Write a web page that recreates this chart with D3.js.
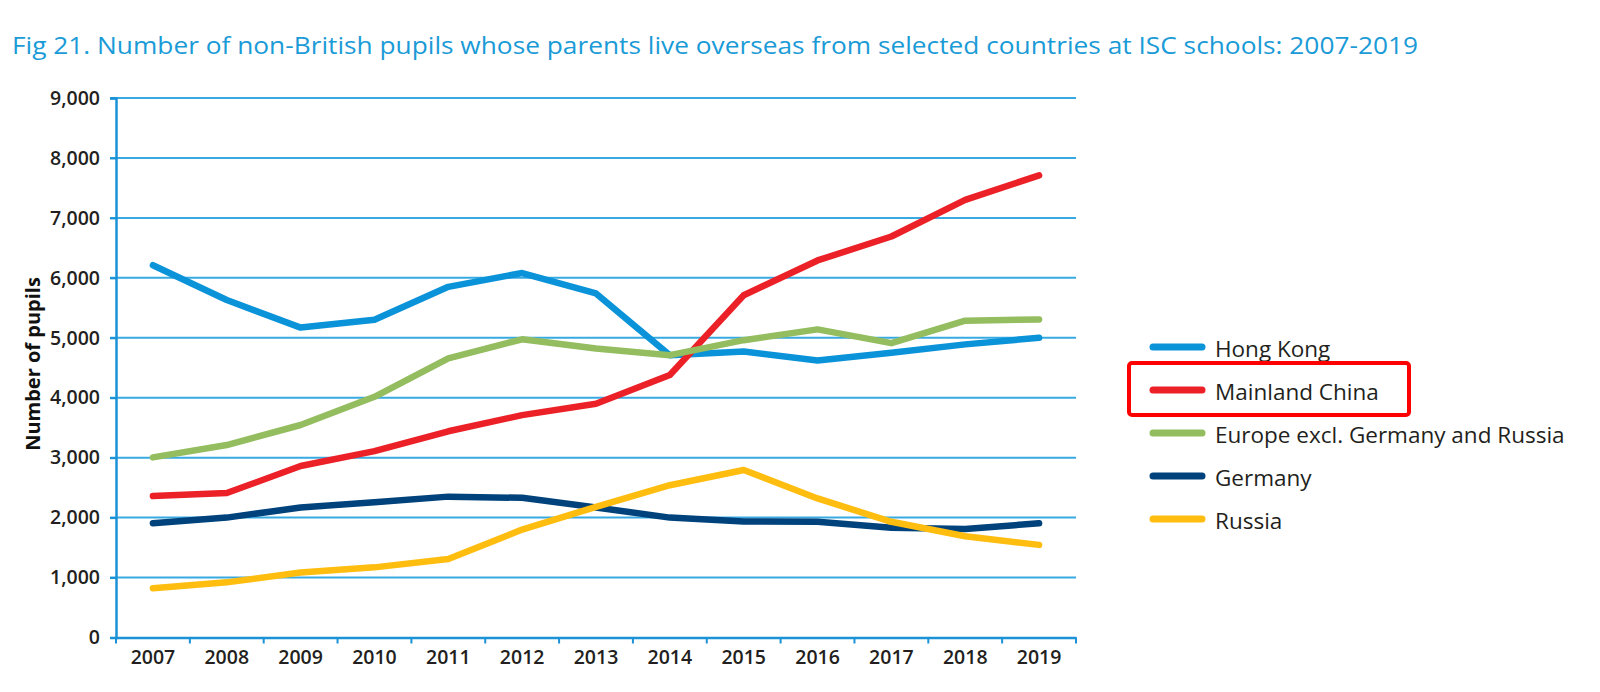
<!DOCTYPE html>
<html>
<head>
<meta charset="utf-8">
<script src="https://cdn.jsdelivr.net/npm/d3@7"></script>
<style>
  html, body { margin: 0; padding: 0; background: #ffffff; }
  svg { display: block; }
</style>
</head>
<body>
<svg id="chart" width="1600" height="692"></svg>
<script>
const years = [2007, 2008, 2009, 2010, 2011, 2012, 2013, 2014, 2015, 2016, 2017, 2018, 2019];
const hongKong      = [6210, 5630, 5170, 5300, 5850, 6080, 5740, 4710, 4770, 4620, 4750, 4890, 5000];
const mainlandChina = [2360, 2410, 2860, 3110, 3440, 3710, 3900, 4380, 5710, 6290, 6690, 7300, 7710];
const europeExcl    = [3005, 3210, 3545, 4015, 4655, 4975, 4820, 4710, 4960, 5140, 4910, 5285, 5305];
const germany       = [1905, 2000, 2170, 2255, 2350, 2330, 2170, 2000, 1935, 1930, 1830, 1810, 1905];
const russia        = [820, 920, 1085, 1170, 1310, 1800, 2180, 2540, 2795, 2320, 1930, 1690, 1545];
const seriesNames = ["Hong Kong", "Mainland China", "Europe excl. Germany and Russia", "Germany", "Russia"];
const seriesColors = ["#0a93d9", "#ec2128", "#93bd5f", "#00427b", "#ffbd10"];
const yTicks = [0, 1000, 2000, 3000, 4000, 5000, 6000, 7000, 8000, 9000];
const titleText = "Fig 21. Number of non-British pupils whose parents live overseas from selected countries at ISC schools: 2007-2019";
const yAxisTitle = "Number of pupils";
const highlighted = "Mainland China";

const seriesValues = [hongKong, mainlandChina, europeExcl, germany, russia];
const series = seriesNames.map((name, i) => ({
  name, color: seriesColors[i],
  values: years.map((yr, j) => ({ year: yr, value: seriesValues[i][j] }))
}));

const svg = d3.select("#chart");
const plotLeft = 116, plotRight = 1076, plotTop = 98, plotBottom = 637.5;
const axisColor = "#1b92d6", gridColor = "#38aae2", textColor = "#231f20";
const fontFam = "'Open Sans', 'Noto Sans', sans-serif";

const xBand = d3.scaleBand().domain(years).range([plotLeft, plotRight]).padding(0);
const x = d3.scalePoint().domain(years).range([plotLeft, plotRight]).padding(0.5);
const y = d3.scaleLinear().domain([0, 9000]).range([plotBottom, plotTop]);

// Title
svg.append("text")
  .attr("x", 12).attr("y", 54)
  .attr("font-family", fontFam)
  .attr("font-size", 24.5)
  .attr("fill", "#1a9bd7")
  .attr("textLength", 1406).attr("lengthAdjust", "spacingAndGlyphs")
  .text(titleText);

// Gridlines
svg.append("g").selectAll("line")
  .data(yTicks.filter(d => d > 0))
  .join("line")
  .attr("x1", plotLeft - 6).attr("x2", plotRight)
  .attr("y1", d => y(d)).attr("y2", d => y(d))
  .attr("stroke", gridColor).attr("stroke-width", 2);

// Y axis
const yAxis = svg.append("g")
  .attr("transform", `translate(${plotLeft},0)`)
  .call(d3.axisLeft(y).tickValues(yTicks).tickFormat(d3.format(",")).tickSize(6).tickPadding(10));
yAxis.select(".domain").attr("stroke", axisColor).attr("stroke-width", 2.5);
yAxis.selectAll(".tick line").attr("stroke", axisColor).attr("stroke-width", 2);
yAxis.selectAll(".tick text")
  .attr("font-family", fontFam).attr("font-size", 19.5).attr("font-weight", 600)
  .attr("fill", textColor);

// X axis
const xAxis = svg.append("g")
  .attr("transform", `translate(0,${plotBottom})`)
  .call(d3.axisBottom(xBand).tickSize(0).tickPadding(13).tickSizeOuter(0));
xAxis.select(".domain").attr("stroke", axisColor).attr("stroke-width", 2.5);
xAxis.selectAll(".tick text")
  .attr("font-family", fontFam).attr("font-size", 19.5).attr("font-weight", 600)
  .attr("fill", textColor);
// boundary ticks
const boundaries = years.map(d => xBand(d)).concat([xBand(years[years.length - 1]) + xBand.bandwidth()]);
svg.append("g").selectAll("line")
  .data(boundaries)
  .join("line")
  .attr("x1", d => d).attr("x2", d => d)
  .attr("y1", plotBottom).attr("y2", plotBottom + 6)
  .attr("stroke", axisColor).attr("stroke-width", 2);

// Y axis title
svg.append("text")
  .attr("transform", `translate(40,364) rotate(-90)`)
  .attr("text-anchor", "middle")
  .attr("font-family", fontFam).attr("font-size", 20).attr("font-weight", 700)
  .attr("fill", "#111")
  .text(yAxisTitle);

// Lines
const line = d3.line().x(d => x(d.year)).y(d => y(d.value));
const drawOrder = ["Hong Kong", "Germany", "Mainland China", "Europe excl. Germany and Russia", "Russia"];
svg.append("g").selectAll("path")
  .data(drawOrder.map(n => series.find(s => s.name === n)))
  .join("path")
  .attr("d", d => line(d.values))
  .attr("fill", "none")
  .attr("stroke", d => d.color)
  .attr("stroke-width", 6.5)
  .attr("stroke-linecap", "round")
  .attr("stroke-linejoin", "round");

// Legend
const legend = svg.append("g").attr("transform", "translate(1153,347)");
const items = legend.selectAll("g").data(series).join("g")
  .attr("transform", (d, i) => `translate(0,${i * 43})`);
items.append("line")
  .attr("x1", 0).attr("x2", 49).attr("y1", 0).attr("y2", 0)
  .attr("stroke", d => d.color).attr("stroke-width", 7).attr("stroke-linecap", "round");
items.append("text")
  .attr("x", 62).attr("y", 10)
  .attr("font-family", fontFam).attr("font-size", 22.5).attr("font-weight", 500)
  .attr("fill", textColor)
  .text(d => d.name);

// Highlight box
const hi = seriesNames.indexOf(highlighted);
svg.append("rect")
  .attr("x", 1129).attr("y", 347 + hi * 43 - 27)
  .attr("width", 280).attr("height", 52)
  .attr("rx", 3)
  .attr("fill", "none").attr("stroke", "#ff0000").attr("stroke-width", 4);
</script>
</body>
</html>
